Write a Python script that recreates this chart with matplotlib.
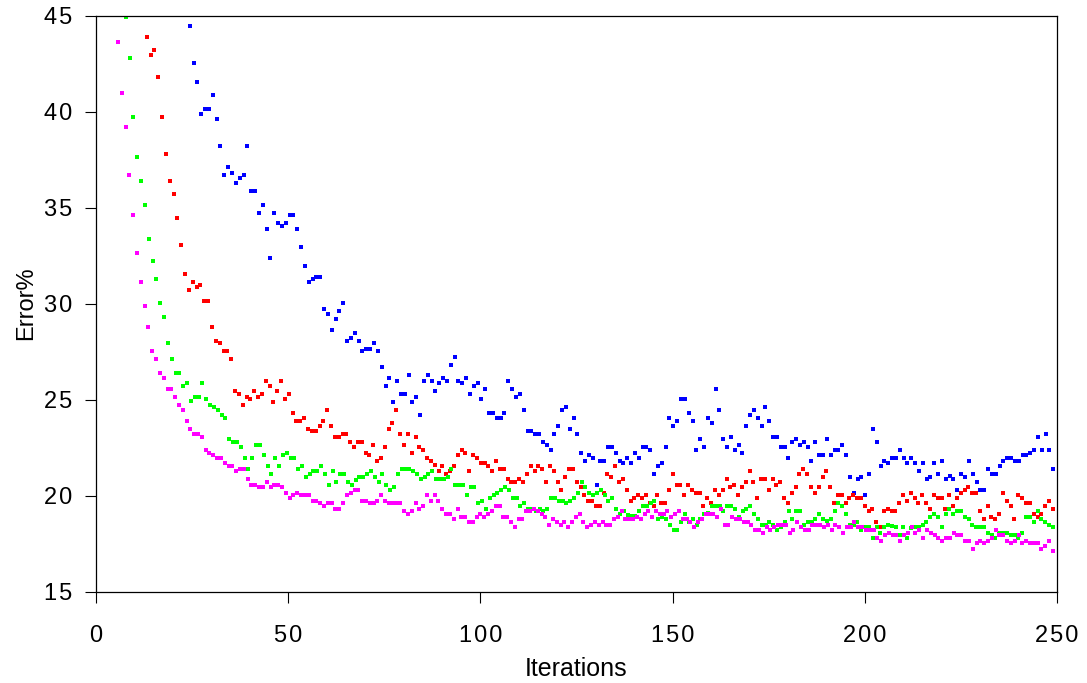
import numpy as np
import matplotlib
matplotlib.use("Agg")
import matplotlib.pyplot as plt
from matplotlib.ticker import FuncFormatter

plt.rcParams['font.family'] = ['Liberation Sans', 'DejaVu Sans']

# Error (%) per run, in iteration order; each run spans [first, last] iterations
blue_span = (24.4, 249.0)
blue_err = [
    44.46, 42.54, 41.55, 39.88, 40.14, 40.14, 40.87, 39.62, 38.21, 36.70,
    37.12, 36.81, 36.29, 36.55, 36.70, 38.21, 35.87, 35.87, 34.72,
    35.14, 33.89, 32.38, 34.72, 34.20, 34.05, 34.20, 34.62, 34.62, 33.89,
    32.95, 31.96, 31.13, 31.29, 31.39, 31.39, 29.72, 29.46, 28.63, 29.20,
    29.62, 30.04, 28.06, 28.21, 28.47, 28.06, 27.54, 27.64, 27.64, 27.95,
    27.54, 26.70, 25.71, 26.13, 24.88, 25.97, 25.30, 25.30, 26.29, 24.88,
    25.14, 24.20, 25.97, 26.29, 25.97, 25.45, 25.87, 26.13, 25.97, 26.80,
    27.22, 25.97, 25.87, 26.13, 25.29, 25.71, 25.87, 25.03, 25.55, 24.30,
    24.30, 24.04, 24.04, 24.30, 25.97, 25.55, 25.14, 25.29, 24.46, 23.37,
    23.37, 23.21, 23.21, 22.79, 22.64, 22.38, 23.21, 23.63, 24.46, 24.62,
    23.47, 24.04, 23.21, 22.22, 21.80, 22.12, 21.96, 20.55, 21.80, 21.80,
    22.53, 22.53, 22.22, 21.80, 21.70, 21.96, 21.70, 22.22, 21.96, 22.53,
    22.53, 22.38,
    21.13, 21.54, 21.70, 22.53, 24.04, 23.63, 23.89, 25.03, 25.03, 24.30,
    23.89, 22.38, 22.95, 22.53, 24.04, 23.78, 25.55, 24.46, 22.95, 22.53,
    23.05, 22.38, 22.64, 22.22, 23.63, 24.20, 24.46, 24.04, 23.63, 24.62,
    23.89, 23.05, 23.05, 22.53, 22.53, 21.96, 22.79, 22.95, 22.64, 22.79,
    22.53, 21.80, 22.79, 22.12, 22.12, 22.95, 22.12, 22.38, 22.38, 22.64,
    22.12, 20.97, 20.14, 20.87,
    20.97, 20.04, 21.13, 23.47, 22.80, 21.55, 21.81, 21.70, 21.96, 21.96,
    22.38, 21.96, 21.70, 21.96, 21.70, 21.29, 21.70, 20.87, 20.97, 21.70,
    21.13, 21.81, 20.87, 21.00, 20.87, 20.30, 21.13, 20.97, 21.81, 21.13,
    20.71, 20.30, 20.30, 21.39, 21.13, 21.13, 21.55, 21.81, 21.96, 21.96,
    21.81, 21.81, 22.12, 22.12, 22.23, 22.38, 23.06, 22.38, 23.21, 22.38,
    21.39,
]

red_span = (13.2, 248.9)
red_err = [
    43.89, 42.95, 43.21, 41.81, 39.72, 37.80, 36.39, 35.71, 34.46, 33.05,
    31.54, 30.71, 31.13, 30.87, 30.97, 30.14, 30.14, 28.78, 28.05, 27.95,
    27.53, 27.53, 27.12, 25.45, 25.29, 24.72, 25.14, 25.04, 25.45, 25.14,
    25.30, 25.97, 25.71, 24.88, 25.45, 25.97, 25.04, 25.30, 24.31, 23.89,
    23.89, 24.05, 23.47, 23.37, 23.37, 23.63, 23.89, 24.46, 23.63, 23.06,
    23.06, 23.21, 23.21, 22.80, 22.54, 22.80, 22.80, 22.22, 22.12, 22.64,
    21.81, 21.96, 22.54, 23.47, 23.79, 24.46, 23.21, 22.64, 23.21, 22.22,
    23.06, 22.54, 22.38, 21.96, 21.80, 21.60, 21.29, 21.55, 21.13, 21.28,
    21.54, 22.12, 22.38, 22.22, 21.28, 22.12, 21.96, 21.70, 21.70, 21.54,
    21.28, 21.80, 21.39, 21.39, 20.87, 20.71, 20.71, 20.87, 20.71, 21.13,
    21.54, 21.28, 21.54, 21.39, 20.71, 21.54, 21.28, 20.71, 20.29, 20.97,
    21.39, 21.39, 20.71, 20.45, 20.03, 19.72, 19.72, 19.46, 19.46, 20.14,
    21.13, 20.97, 21.54, 20.71, 20.87, 20.29, 19.72, 19.88, 20.03, 19.88,
    20.03, 19.62,
    19.46, 20.03, 19.62, 19.62, 20.29, 21.13, 20.55, 20.55, 20.03, 20.55,
    20.29, 20.14, 20.14, 19.46, 19.88, 19.62, 20.29, 20.03, 20.29, 20.87,
    20.45, 20.55, 20.03, 20.45, 20.71, 21.28, 20.71, 19.88, 20.87, 20.87,
    20.29, 20.87, 20.55, 20.71, 19.88, 19.62, 20.14, 20.45, 21.13, 21.39,
    21.13, 20.45, 20.14, 20.45, 20.97, 21.28, 20.45, 19.62, 20.03, 20.03,
    19.62, 19.88, 20.03, 19.88,
    19.88, 19.46, 19.20, 19.31, 18.63, 18.37, 19.20, 19.31, 19.20, 19.20,
    19.62, 20.04, 19.73, 20.14, 19.88, 19.62, 20.04, 19.62, 19.31, 20.04,
    19.88, 19.88, 19.31, 20.04, 19.46, 19.88, 20.14, 20.30, 20.45, 20.14,
    20.14, 19.20, 18.79, 19.46, 18.89, 18.79, 19.05, 20.14, 19.73, 19.46,
    18.79, 20.04, 19.88, 19.62, 19.62, 19.05, 18.89, 19.05, 19.46, 19.73,
    19.31,
]

green_span = (7.75, 248.9)
green_err = [
    44.90, 42.80, 39.72, 37.64, 36.39, 35.14, 33.37, 32.22, 31.28, 30.03,
    29.30, 27.95, 27.12, 26.39, 26.39, 25.71, 25.87, 24.93, 25.14, 25.14,
    25.87, 25.04, 24.72, 24.62, 24.46, 24.20, 24.05, 22.95, 22.80, 22.80,
    22.54, 21.96, 21.39, 21.96, 22.64, 22.64,
    22.12, 21.55, 21.13, 21.97, 21.55, 22.12, 22.22, 21.97, 21.97, 21.39,
    21.55, 20.98, 21.13, 21.29, 21.29, 21.55, 21.13, 20.56, 21.29, 20.71,
    21.13, 21.13, 20.71, 20.56, 20.80, 20.98, 20.98, 21.13, 21.29, 20.98,
    20.71, 21.13, 20.56, 20.30, 20.45, 21.13, 21.39, 21.39, 21.39, 21.29,
    21.13, 20.87, 20.98, 21.13, 21.29, 20.87, 20.87, 20.87, 20.98, 21.39,
    20.55, 20.55, 20.55, 20.03, 20.45, 20.45, 19.62, 19.72, 19.30, 19.88,
    20.03, 20.14, 20.29, 20.45, 20.29, 19.88, 19.88, 19.46, 19.62, 19.30,
    19.30, 19.20, 19.30, 19.20, 19.30, 19.88, 19.88, 19.72, 19.72, 19.62,
    19.72, 19.88, 20.14, 20.71, 20.45, 20.14, 20.03, 20.14, 20.29, 20.03,
    19.72, 19.88, 19.30, 19.04, 19.20, 19.00, 18.94, 18.94, 19.20, 19.46,
    19.46, 19.60,
    19.72, 18.78, 18.90, 18.78, 18.47, 18.21, 18.21, 18.63, 19.04, 18.63,
    18.80, 18.47, 18.80, 19.04, 19.10, 19.46, 19.46, 19.46, 19.20, 19.46,
    19.46, 19.30, 18.89, 19.20, 19.30, 19.46, 19.04, 18.78, 18.47, 18.47,
    18.63, 18.47, 18.21, 18.37, 18.63, 19.20, 18.78, 19.20, 19.20, 18.47,
    18.63, 18.63, 18.78, 19.04, 18.78, 18.70, 18.78, 19.20, 19.62, 19.46,
    19.04, 18.47, 18.47, 18.63,
    18.21, 18.37, 18.37, 17.80, 18.37, 18.06, 18.37, 18.47, 18.40, 18.37,
    17.95, 18.37, 17.80, 18.30, 18.37, 18.37, 18.47, 18.63, 18.89, 19.05,
    18.89, 18.37, 19.05, 19.31, 19.05, 19.20, 19.20, 18.89, 18.79, 18.47,
    18.37, 18.37, 18.37, 18.06, 17.95, 17.80, 18.06, 18.06, 18.06, 17.95,
    17.95, 17.80, 18.06, 18.89, 18.89, 18.63, 19.20, 18.79, 18.63, 18.47,
    18.37,
]

magenta_span = (5.7, 248.9)
magenta_err = [
    43.63, 40.97, 39.20, 36.70, 34.62, 32.64, 31.13, 29.88, 28.79, 27.54,
    27.12, 26.39, 26.13, 25.56, 25.56, 25.14, 24.72, 24.46, 23.89, 23.47,
    23.21, 23.21, 23.06, 22.38, 22.22, 22.12, 21.96, 21.96, 21.70, 21.55,
    21.55, 21.29, 21.39, 21.39, 20.87, 20.56, 20.56, 20.45,
    20.45, 20.71, 20.45, 20.56, 20.56, 20.45, 20.14, 19.88, 20.04, 20.14,
    20.04, 20.04, 20.04, 19.72, 19.72, 19.62, 19.46, 19.62, 19.62, 19.31,
    19.31, 19.62, 20.04, 20.14, 20.30, 20.30, 19.72, 19.72, 19.62, 19.62,
    19.72, 20.04, 19.72, 19.62, 19.62, 19.62, 19.62, 19.20, 19.05, 19.20,
    19.62, 19.31, 19.46, 20.04, 19.72, 20.04, 19.72, 19.31, 19.05, 19.05,
    18.78, 19.30, 18.89, 18.89, 18.63, 18.63, 18.89, 19.04, 18.89, 19.04,
    19.20, 19.46, 19.46, 18.89, 18.89, 18.63, 18.37, 18.78, 18.78, 19.20,
    19.20, 19.30, 19.20, 19.04, 18.89, 18.47, 18.78, 18.63, 18.47, 18.63,
    18.37, 18.63, 18.89, 19.04, 18.63, 18.37, 18.47, 18.63, 18.47, 18.63,
    18.47, 18.47, 18.78, 18.89, 19.20, 18.78, 18.78, 18.78, 18.89, 18.78,
    19.04, 19.20,
    18.89, 19.20, 19.04, 19.04, 19.20, 18.89, 19.04, 19.20, 18.78, 18.78,
    18.63, 18.37, 18.63, 18.78, 19.04, 19.04, 19.04, 18.89, 19.30, 18.47,
    18.47, 18.89, 18.78, 18.78, 18.63, 18.63, 18.47, 18.21, 18.21, 18.06,
    18.37, 18.21, 18.37, 18.47, 18.47, 18.47, 18.06, 18.21, 18.63, 18.37,
    18.21, 18.21, 18.47, 18.47, 18.47, 18.37, 18.47, 18.21, 18.47, 18.37,
    18.06, 18.37, 18.37, 18.63, 18.37,
    18.37, 18.21, 18.21, 18.21, 17.80, 17.64, 17.95, 18.06, 17.95, 17.95,
    17.64, 17.95, 18.06, 18.37, 18.06, 18.21, 17.80, 18.21, 18.06, 17.95,
    17.80, 17.64, 17.80, 17.80, 18.06, 17.95, 17.95, 17.64, 17.64, 17.23,
    17.54, 17.64, 17.54, 17.64, 17.80, 18.21, 17.95, 17.95, 17.64, 17.54,
    17.64, 17.95, 17.54, 17.64, 17.54, 17.54, 17.54, 17.23, 17.38, 17.64,
    17.12,
]

x_ticks = [0, 50, 100, 150, 200, 250]
y_ticks = [15, 20, 25, 30, 35, 40, 45]

runs = [
    (blue_span, blue_err, '#0000ff'),
    (red_span, red_err, '#ff0000'),
    (green_span, green_err, '#00ff00'),
    (magenta_span, magenta_err, '#ff00ff'),
]


def spaced(value, pos):
    # digits set slightly apart, as in the original axis style
    return '\u200a'.join(f'{value:g}')


fig = plt.figure(figsize=(10.87, 6.83), dpi=100)
ax = fig.add_axes([0.0883, 0.1337, 0.8842, 0.8436])

for (first, last), err, color in runs:
    it = np.linspace(first, last, len(err))
    ax.plot(it, err, linestyle='none', marker='s', markersize=2.3,
            markeredgewidth=0, color=color)

ax.set_xlim(0, 250)
ax.set_ylim(15, 45)
ax.set_xticks(x_ticks)
ax.set_yticks(y_ticks)
ax.xaxis.set_major_formatter(FuncFormatter(spaced))
ax.yaxis.set_major_formatter(FuncFormatter(spaced))
ax.tick_params(axis='both', direction='out', length=8, width=0.8,
               labelsize=17, colors='black')
ax.tick_params(axis='x', pad=16)
ax.tick_params(axis='y', pad=9)
for side in ('top', 'right', 'bottom', 'left'):
    ax.spines[side].set_linewidth(0.9)
    ax.spines[side].set_color('black')

ax.set_xlabel('Iterations', fontsize=18, labelpad=7)
ax.set_ylabel('Error%', fontsize=17, labelpad=5)

fig.savefig('out.png', dpi=100)
